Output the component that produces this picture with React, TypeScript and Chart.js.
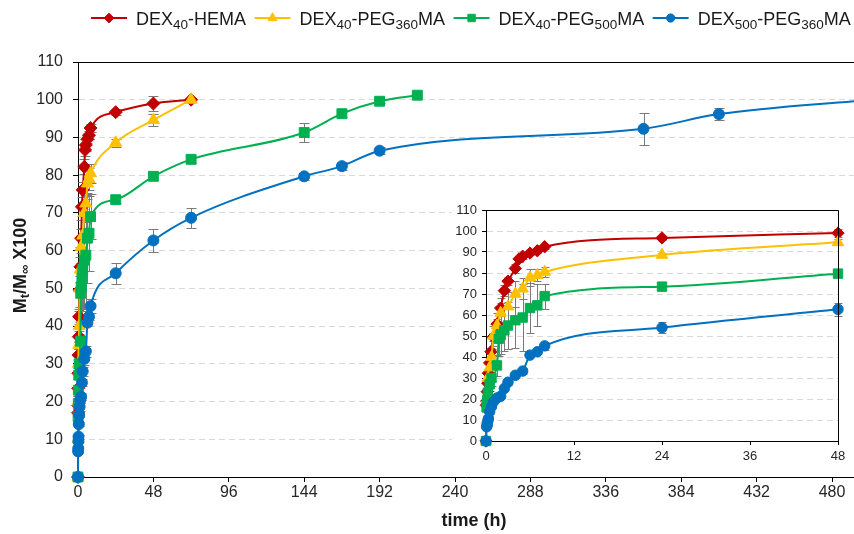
import React, { useEffect, useRef } from 'react';
import { Chart, registerables } from 'chart.js';
import { drawPoint } from 'chart.js/helpers';
Chart.register(...registerables);

const FAMILY = "'Liberation Sans', Arial, sans-serif";

// ---- data (time in h, release in %) ----
const hemaT = [0, 0.05, 0.1, 0.17, 0.25, 0.33, 0.5, 0.67, 1, 1.5, 2, 2.5, 3, 4, 4.5, 5, 6, 7, 8, 24, 48, 72];
const hemaV = [0, 17, 19, 23.5, 27.5, 32.3, 37.2, 42.5, 49.6, 55.7, 63.3, 71.6, 76.1, 82.2, 86.7, 88, 89.5, 90.6, 92.5, 96.7, 99, 100];
const hemaE = [0, 1, 1, 1, 1.5, 1.5, 1.5, 2, 2, 2.5, 2.5, 2.5, 2, 2, 1.5, 1.5, 1, 1, 1, 0.8, 2, 0.5];

const peg360T = [0, 0.083, 0.167, 0.25, 0.5, 0.75, 1, 1.5, 2, 3, 4, 5, 6, 7, 8, 24, 48, 72];
const peg360V = [0, 10, 20, 30, 35, 40, 50, 55, 61, 64, 70, 72.5, 77.8, 79, 80.5, 88.6, 94.6, 100];
const peg360E = [0, 1, 1.5, 2, 3, 4, 5, 6, 7, 7, 6, 5, 4, 3, 2.5, 1, 1.5, 0.5];

const peg500T = [0, 0.083, 0.167, 0.25, 0.5, 0.75, 1.5, 1.75, 2, 2.5, 3, 4, 5, 6, 7, 8, 24, 48, 72, 144, 168, 192, 216];
const peg500V = [0, 16, 19.5, 23, 27, 30, 36, 48.7, 50.4, 52.7, 55, 57.5, 58.8, 63.3, 64.6, 69, 73.5, 79.7, 84.2, 91.3, 96.3, 99.6, 101.2];
const peg500E = [0, 2, 2, 3, 3, 4, 5, 8, 9, 10, 11, 13, 16, 12, 10, 6, 1, 1, 1, 2.4, 1, 0.5, 0.5];

const dex500T = [0, 0.083, 0.167, 0.25, 0.33, 0.5, 0.75, 1, 1.5, 2, 2.5, 3, 4, 5, 6, 7, 8, 24, 48, 72, 144, 168, 192, 360, 408, 504];
const dex500V = [0, 6.8, 7.6, 9.5, 10.7, 14, 16.4, 18.6, 20.5, 21.3, 25, 28, 31.3, 33.3, 40.9, 42.5, 45.3, 54, 62.7, 68.7, 79.7, 82.4, 86.5, 92.3, 96.2, 100];
const dex500E = [0, 0.5, 0.5, 0.5, 0.5, 0.5, 0.5, 1, 1, 1, 1, 1.2, 1.5, 1.5, 1, 1, 1.8, 2.8, 3.1, 2.7, 1, 1, 1, 4.2, 1.5, 0];

const mainXTicks = [0, 48, 96, 144, 192, 240, 288, 336, 384, 432, 480];
const insetXTicks = [0, 12, 24, 36, 48];
const yTicks = [0, 10, 20, 30, 40, 50, 60, 70, 80, 90, 100, 110];

type Seg = [string, boolean];
const seriesNames: Seg[][] = [
  [['DEX', false], ['40', true], ['-HEMA', false]],
  [['DEX', false], ['40', true], ['-PEG', false], ['360', true], ['MA', false]],
  [['DEX', false], ['40', true], ['-PEG', false], ['500', true], ['MA', false]],
  [['DEX', false], ['500', true], ['-PEG', false], ['360', true], ['MA', false]],
];
const yTitle: Seg[] = [['M', false], ['t', true], ['/M', false], ['\u221E', true], [' X100', false]];
const xTitle = 'time (h)';

const styles = [
  { color: '#C00000', point: 'rectRot', r: 6.5 },
  { color: '#FFC000', point: 'triangle', r: 7 },
  { color: '#00B050', point: 'rect', r: 7 },
  { color: '#0070C0', point: 'circle', r: 5.5 },
];

const raw = [
  [hemaT, hemaV, hemaE],
  [peg360T, peg360V, peg360E],
  [peg500T, peg500V, peg500E],
  [dex500T, dex500V, dex500E],
];

function segText(segs: Seg[]) {
  return segs.map((s) => s[0]).join('');
}

function buildDatasets(maxT: number, scale: number) {
  return raw.map(([t, v, e], i) => {
    const idx = t.map((_, k) => k).filter((k) => t[k] <= maxT);
    const st = styles[i];
    return {
      label: segText(seriesNames[i]),
      data: idx.map((k) => ({ x: t[k], y: v[k] })),
      errors: idx.map((k) => e[k]),
      borderColor: st.color,
      backgroundColor: st.color,
      pointBackgroundColor: st.color,
      pointBorderColor: st.color,
      pointStyle: st.point,
      pointRadius: st.r * scale,
      pointBorderWidth: 1,
      borderWidth: 2,
      cubicInterpolationMode: 'monotone',
      order: 3 - i,
      clip: false,
    } as any;
  });
}

function measureRich(ctx: CanvasRenderingContext2D, segs: Seg[], size: number, sub: number, bold: boolean) {
  let w = 0;
  for (const [txt, isSub] of segs) {
    ctx.font = `${bold ? 'bold ' : ''}${isSub ? sub : size}px ${FAMILY}`;
    w += ctx.measureText(txt).width;
  }
  return w;
}

function drawRich(ctx: CanvasRenderingContext2D, segs: Seg[], x: number, y: number, size: number, sub: number, bold: boolean, subDrop: number) {
  let cx = x;
  for (const [txt, isSub] of segs) {
    ctx.font = `${bold ? 'bold ' : ''}${isSub ? sub : size}px ${FAMILY}`;
    ctx.fillText(txt, cx, isSub ? y + subDrop : y);
    cx += ctx.measureText(txt).width;
  }
  return cx - x;
}

const errorBars = {
  id: 'errorBars',
  beforeDatasetsDraw(chart: any, _a: any, opts: any) {
    const { ctx } = chart;
    const ys = chart.scales.y;
    const cap = opts.cap ?? 4;
    ctx.save();
    ctx.strokeStyle = '#7a7a7a';
    ctx.lineWidth = 1;
    chart.data.datasets.forEach((ds: any, di: number) => {
      const meta = chart.getDatasetMeta(di);
      meta.data.forEach((el: any, i: number) => {
        const e = ds.errors ? ds.errors[i] : 0;
        if (!e) return;
        const v = ds.data[i].y;
        const x = Math.round(el.x) + 0.5;
        const yTop = Math.round(ys.getPixelForValue(v + e)) + 0.5;
        const yBot = Math.round(ys.getPixelForValue(v - e)) + 0.5;
        ctx.beginPath();
        ctx.moveTo(x, yTop);
        ctx.lineTo(x, yBot);
        ctx.moveTo(x - cap, yTop);
        ctx.lineTo(x + cap, yTop);
        ctx.moveTo(x - cap, yBot);
        ctx.lineTo(x + cap, yBot);
        ctx.stroke();
      });
    });
    ctx.restore();
  },
};

const mainDecor = {
  id: 'mainDecor',
  afterDraw(chart: any) {
    const { ctx, chartArea } = chart;
    ctx.save();
    // top frame
    ctx.strokeStyle = '#000';
    ctx.lineWidth = 1;
    ctx.beginPath();
    ctx.moveTo(chartArea.left, chartArea.top + 0.5);
    ctx.lineTo(chartArea.right, chartArea.top + 0.5);
    ctx.stroke();

    // legend
    let x = 91;
    const lineY = 18;
    ctx.textAlign = 'left';
    ctx.textBaseline = 'alphabetic';
    seriesNames.forEach((segs, i) => {
      const st = styles[i];
      ctx.strokeStyle = st.color;
      ctx.lineWidth = 2;
      ctx.beginPath();
      ctx.moveTo(x, lineY);
      ctx.lineTo(x + 36, lineY);
      ctx.stroke();
      ctx.fillStyle = st.color;
      ctx.lineWidth = 1;
      drawPoint(ctx, { pointStyle: st.point as any, radius: st.r * 0.75, rotation: 0, borderWidth: 1 } as any, x + 18, lineY);
      ctx.fillStyle = '#1a1a1a';
      const w = drawRich(ctx, segs, x + 45, 24.5, 18, 13.5, false, 4);
      x = x + 45 + w + 8.5;
    });

    // y title
    ctx.fillStyle = '#1a1a1a';
    const tw = measureRich(ctx, yTitle, 18, 13, true);
    ctx.save();
    ctx.translate(21, (chartArea.top + chartArea.bottom) / 2 - 4);
    ctx.rotate(-Math.PI / 2);
    ctx.textBaseline = 'middle';
    drawRich(ctx, yTitle, -tw / 2, 0, 18, 13, true, 4);
    ctx.restore();

    // x title
    ctx.font = `bold 18px ${FAMILY}`;
    ctx.textAlign = 'center';
    ctx.textBaseline = 'middle';
    ctx.fillText(xTitle, 474, 521);
    ctx.restore();
  },
};

const insetDecor = {
  id: 'insetDecor',
  beforeDraw(chart: any) {
    const { ctx, width, height } = chart;
    ctx.save();
    ctx.fillStyle = '#fff';
    ctx.fillRect(2, 3, width - 2, height - 3);
    ctx.restore();
  },
  afterDraw(chart: any) {
    const { ctx, chartArea } = chart;
    ctx.save();
    ctx.strokeStyle = '#000';
    ctx.lineWidth = 1;
    ctx.beginPath();
    ctx.moveTo(chartArea.left, Math.round(chartArea.top) + 0.5);
    ctx.lineTo(Math.round(chartArea.right) + 0.5, Math.round(chartArea.top) + 0.5);
    ctx.lineTo(Math.round(chartArea.right) + 0.5, chartArea.bottom);
    ctx.stroke();
    ctx.restore();
  },
};

function gridColor(c: any) {
  const v = c.tick ? c.tick.value : null;
  return v === 0 || v === 110 ? 'rgba(0,0,0,0)' : '#d9d9d9';
}

export default function App() {
  const mainRef = useRef<HTMLCanvasElement>(null);
  const insetRef = useRef<HTMLCanvasElement>(null);

  useEffect(() => {
    document.body.style.margin = '0';
    const main = new Chart(mainRef.current as HTMLCanvasElement, {
      type: 'line',
      data: { datasets: buildDatasets(Infinity, 1) },
      plugins: [errorBars, mainDecor],
      options: {
        responsive: false,
        animation: false,
        devicePixelRatio: 1,
        parsing: false,
        layout: { autoPadding: false, padding: { top: 62, left: 0, right: 0, bottom: 0 } },
        plugins: { legend: { display: false }, tooltip: { enabled: false }, errorBars: { cap: 5 } } as any,
        scales: {
          x: {
            type: 'linear',
            min: 0,
            max: 494,
            afterBuildTicks: (s: any) => {
              s.ticks = mainXTicks.map((v) => ({ value: v }));
            },
            afterFit: (s: any) => {
              s.height = 57;
              s.paddingLeft = 0;
              s.paddingRight = 0;
            },
            ticks: { font: { family: FAMILY, size: 16 }, color: '#262626', padding: 1, maxRotation: 0, autoSkip: false },
            grid: { drawOnChartArea: false, drawTicks: true, tickLength: 5, tickColor: '#000' },
            border: { color: '#000', width: 1 },
          },
          y: {
            type: 'linear',
            min: 0,
            max: 110,
            afterBuildTicks: (s: any) => {
              s.ticks = yTicks.map((v) => ({ value: v }));
            },
            afterFit: (s: any) => {
              s.width = 78;
              s.paddingTop = 0;
              s.paddingBottom = 0;
            },
            ticks: { font: { family: FAMILY, size: 16 }, color: '#262626', padding: 10 },
            grid: { color: gridColor, lineWidth: 1, drawTicks: true, tickLength: 5, tickColor: '#000' },
            border: { color: '#000', width: 1, dash: [6, 4] },
          },
        } as any,
      },
    } as any);

    const inset = new Chart(insetRef.current as HTMLCanvasElement, {
      type: 'line',
      data: { datasets: buildDatasets(48, 0.95) },
      plugins: [insetDecor, errorBars],
      options: {
        responsive: false,
        animation: false,
        devicePixelRatio: 1,
        parsing: false,
        layout: { autoPadding: false, padding: { top: 10, left: 0, right: 16, bottom: 0 } },
        plugins: { legend: { display: false }, tooltip: { enabled: false }, errorBars: { cap: 4 } } as any,
        scales: {
          x: {
            type: 'linear',
            min: 0,
            max: 48,
            afterBuildTicks: (s: any) => {
              s.ticks = insetXTicks.map((v) => ({ value: v }));
            },
            afterFit: (s: any) => {
              s.height = 29;
              s.paddingLeft = 0;
              s.paddingRight = 0;
            },
            ticks: { font: { family: FAMILY, size: 13 }, color: '#262626', padding: 4, maxRotation: 0, autoSkip: false },
            grid: { drawOnChartArea: false, drawTicks: true, tickLength: 4, tickColor: '#000' },
            border: { color: '#000', width: 1 },
          },
          y: {
            type: 'linear',
            min: 0,
            max: 110,
            afterBuildTicks: (s: any) => {
              s.ticks = yTicks.map((v) => ({ value: v }));
            },
            afterFit: (s: any) => {
              s.width = 36;
              s.paddingTop = 0;
              s.paddingBottom = 0;
            },
            ticks: { font: { family: FAMILY, size: 13 }, color: '#262626', padding: 5 },
            grid: { color: gridColor, lineWidth: 1, drawTicks: true, tickLength: 4, tickColor: '#000' },
            border: { color: '#000', width: 1, dash: [6, 4] },
          },
        } as any,
      },
    } as any);

    return () => {
      main.destroy();
      inset.destroy();
    };
  }, []);

  return (
    <div style={{ position: 'relative', width: 854, height: 534, background: '#fff' }}>
      <canvas ref={mainRef} width={854} height={534} style={{ position: 'absolute', left: 0, top: 0 }} />
      <canvas ref={insetRef} width={404} height={270} style={{ position: 'absolute', left: 450, top: 200 }} />
    </div>
  );
}
